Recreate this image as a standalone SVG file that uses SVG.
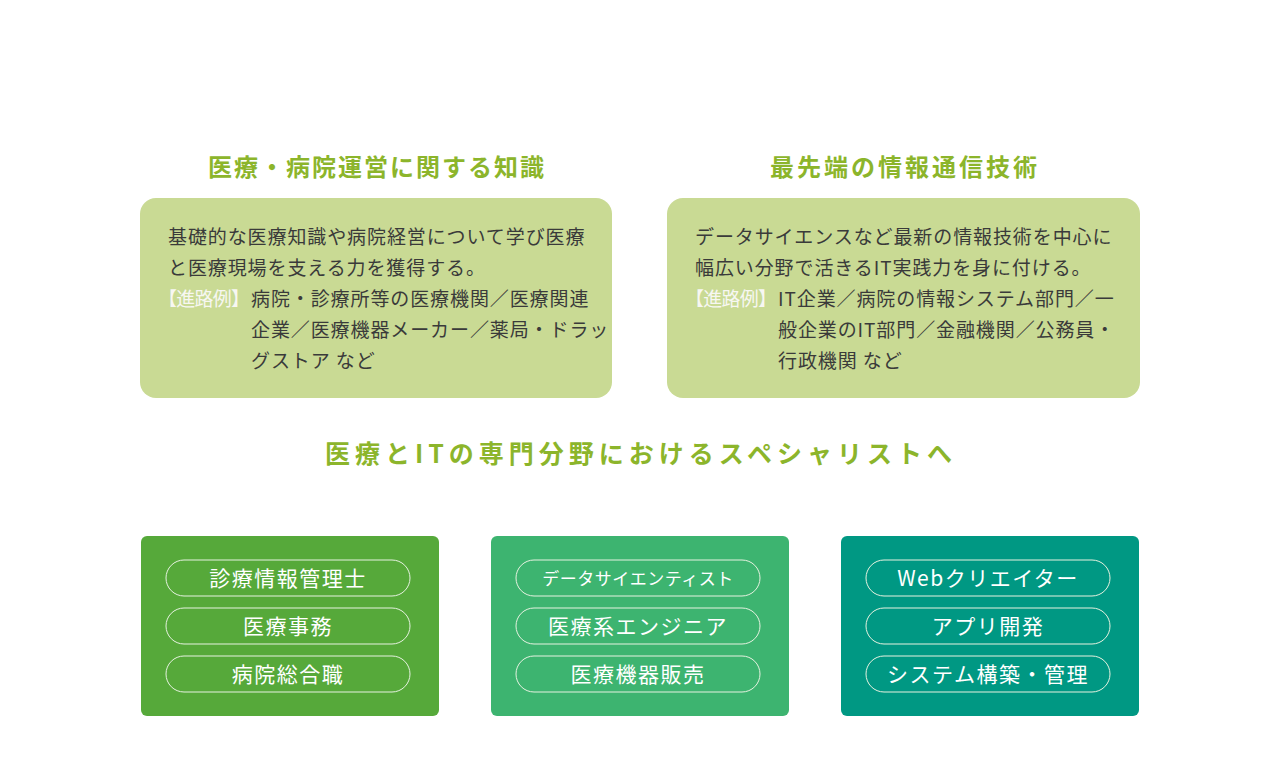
<svg xmlns="http://www.w3.org/2000/svg" width="1280" height="780" viewBox="0 0 1280 780">
<style>
text{font-family:"Noto Sans CJK JP","Noto Sans",sans-serif}
.h{font-size:24px;font-weight:bold;fill:#8cb52b;text-anchor:middle;letter-spacing:2px}
.b{font-size:19px;fill:#3a3a3a;letter-spacing:0.9px}
.r{font-size:19px;fill:#f7f7f2}
.box{fill:#c9da94}
.pill{fill:none;stroke:#e6f2e0;stroke-width:1}
.p{font-size:21px;fill:#fff;text-anchor:middle;letter-spacing:1.5px}
</style>
<rect width="1280" height="780" fill="#fff"/>
<g id="med">
<text class="h" x="377" y="176">医療・病院運営に関する知識</text>
<rect class="box" x="140" y="198" width="472" height="200" rx="16"/>
<text class="b" x="168" y="244">基礎的な医療知識や病院経営について学び医療</text>
<text class="b" x="168" y="275">と医療現場を支える力を獲得する。</text>
<text class="r" x="158" y="306" textLength="92">【進路例】</text>
<text class="b" x="251" y="306">病院・診療所等の医療機関／医療関連</text>
<text class="b" x="251" y="337">企業／医療機器メーカー／薬局・ドラッ</text>
<text class="b" x="251" y="368">グストア など</text>
</g>
<g id="it">
<text class="h" x="905" y="176" style="letter-spacing:3px">最先端の情報通信技術</text>
<rect class="box" x="667" y="198" width="473" height="200" rx="16"/>
<text class="b" x="695" y="244">データサイエンスなど最新の情報技術を中心に</text>
<text class="b" x="695" y="275">幅広い分野で活きるIT実践力を身に付ける。</text>
<text class="r" x="685" y="306" textLength="92">【進路例】</text>
<text class="b" x="778" y="306">IT企業／病院の情報システム部門／一</text>
<text class="b" x="778" y="337">般企業のIT部門／金融機関／公務員・</text>
<text class="b" x="778" y="368">行政機関 など</text>
</g>
<text x="641" y="463" class="h" style="font-size:25px;letter-spacing:5px">医療とITの専門分野におけるスペシャリストへ</text>
<g id="c1">
<rect x="141" y="536" width="298" height="180" rx="6" fill="#56a93a"/>
<rect class="pill" x="166" y="560" width="244" height="36" rx="18"/><text class="p" x="288" y="586">診療情報管理士</text>
<rect class="pill" x="166" y="608" width="244" height="36" rx="18"/><text class="p" x="288" y="634">医療事務</text>
<rect class="pill" x="166" y="656" width="244" height="36" rx="18"/><text class="p" x="288" y="682">病院総合職</text>
</g>
<g id="c2">
<rect x="491" y="536" width="298" height="180" rx="6" fill="#3db470"/>
<rect class="pill" x="516" y="560" width="244" height="36" rx="18"/><text class="p" x="638" y="585" style="font-size:17px;letter-spacing:0.5px">データサイエンティスト</text>
<rect class="pill" x="516" y="608" width="244" height="36" rx="18"/><text class="p" x="638" y="634">医療系エンジニア</text>
<rect class="pill" x="516" y="656" width="244" height="36" rx="18"/><text class="p" x="638" y="682">医療機器販売</text>
</g>
<g id="c3">
<rect x="841" y="536" width="298" height="180" rx="6" fill="#009883"/>
<rect class="pill" x="866" y="560" width="244" height="36" rx="18"/><text class="p" x="988" y="586">Webクリエイター</text>
<rect class="pill" x="866" y="608" width="244" height="36" rx="18"/><text class="p" x="988" y="634">アプリ開発</text>
<rect class="pill" x="866" y="656" width="244" height="36" rx="18"/><text class="p" x="988" y="682">システム構築・管理</text>
</g>
</svg>
